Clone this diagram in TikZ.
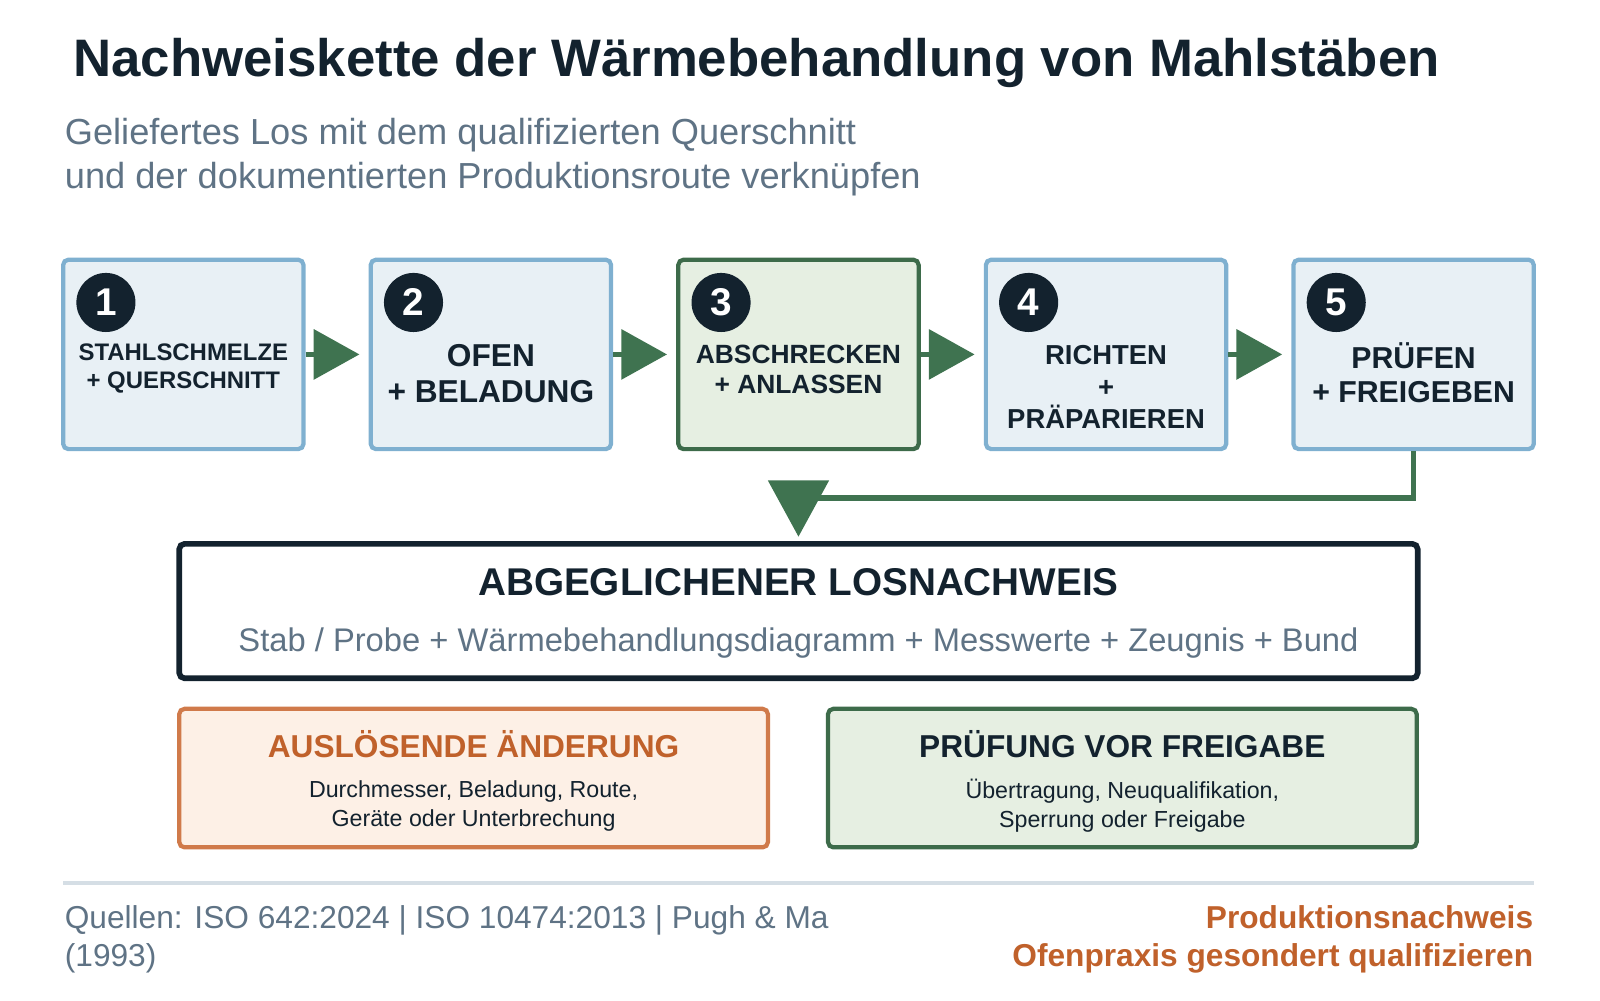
\documentclass[tikz,border=0pt]{standalone}
\usepackage{fontspec}
\setmainfont{Liberation Sans}
\usetikzlibrary{arrows.meta}
\definecolor{navy}{HTML}{13222E}
\definecolor{slate}{HTML}{5F7385}
\definecolor{stepfill}{HTML}{E8F0F5}
\definecolor{stepline}{HTML}{7FB0D0}
\definecolor{greenfill}{HTML}{E6EFE2}
\definecolor{greenline}{HTML}{3D6B4A}
\definecolor{arrowgreen}{HTML}{3F7350}
\definecolor{orange}{HTML}{C0612B}
\definecolor{orangefill}{HTML}{FDF0E6}
\definecolor{orangeline}{HTML}{D07A4A}
\definecolor{rule}{HTML}{D5DEE5}
\tikzset{>=latex,
  stepbox/.style={draw=stepline, fill=stepfill, line width=1.2pt, rounded corners=1.5pt,
    minimum width=236*0.01018cm, minimum height=186*0.01018cm, inner sep=0pt},
  steptext/.style={align=center, font=\bfseries, text=navy, inner sep=0pt},
  num/.style={circle, fill=navy, text=white, font=\bfseries\fontsize{11}{11}\selectfont,
    minimum size=58*0.01018cm, inner sep=0pt},
  flow/.style={arrowgreen, line width=1.6pt, -{Triangle[length=13pt,width=14pt]}, shorten >=2.6pt},
}
\begin{document}
\begin{tikzpicture}[x=0.01018cm, y=-0.01018cm]
    \useasboundingbox (0,0) rectangle (1571,982);
    % title
    \node[anchor=west, font=\bfseries\fontsize{15}{18}\selectfont, text=navy] (title) at (60,62)
      {Nachweiskette der Wärmebehandlung von Mahlstäben};
    \node[anchor=north west, align=left, font=\fontsize{10.3}{12.6}\selectfont, text=slate, inner sep=0pt] (sub) at (63,115)
      {Geliefertes Los mit dem qualifizierten Querschnitt\\und der dokumentierten Produktionsroute verknüpfen};
    % steps
    \node[stepbox] (s1) at (180,348) {};
    \node[stepbox] (s2) at (482,348) {};
    \node[stepbox, draw=greenline, fill=greenfill] (s3) at (784,348) {};
    \node[stepbox] (s4) at (1086,348) {};
    \node[stepbox] (s5) at (1388,348) {};
    \node[steptext, font=\bfseries\fontsize{6.8}{7.8}\selectfont] (t1) at (180,362) {STAHLSCHMELZE\\+ QUERSCHNITT};
    \node[steptext, font=\bfseries\fontsize{9}{10.2}\selectfont] (t2) at (482,367) {OFEN\\+ BELADUNG};
    \node[steptext, font=\bfseries\fontsize{7.5}{8.6}\selectfont] (t3) at (784,363) {ABSCHRECKEN\\+ ANLASSEN};
    \node[steptext, font=\bfseries\fontsize{7.8}{9}\selectfont] (t4) at (1086,380) {RICHTEN\\+\\PRÄPARIEREN};
    \node[steptext, font=\bfseries\fontsize{8.6}{9.8}\selectfont] (t5) at (1388,366) {PRÜFEN\\+ FREIGEBEN};
    \node[num] (n1) at (104,297) {1};
    \node[num] (n2) at (406,297) {2};
    \node[num] (n3) at (708,297) {3};
    \node[num] (n4) at (1010,297) {4};
    \node[num] (n5) at (1312,297) {5};
    \draw[flow] (s1.east) -- (s2.west);
    \draw[flow] (s2.east) -- (s3.west);
    \draw[flow] (s3.east) -- (s4.west);
    \draw[flow] (s4.east) -- (s5.west);
    % record
    \node[draw=navy, line width=1.6pt, rounded corners=1.5pt, fill=white,
      minimum width=1216*0.01018cm, minimum height=132*0.01018cm] (rec) at (784,600) {};
    \node[font=\bfseries\fontsize{11}{13}\selectfont, text=navy] (rect) at (784,572) {ABGEGLICHENER LOSNACHWEIS};
    \node[font=\fontsize{9.3}{11}\selectfont, text=slate] (recs) at (784,631)
      {Stab / Probe + Wärmebehandlungsdiagramm + Messwerte + Zeugnis + Bund};
    \coordinate (fb) at (1388,489);
    \coordinate (fbend) at (784,527);
    \draw[arrowgreen, line width=1.6pt, -{Triangle[length=16pt,width=17pt]}]
      (s5.south) -- (fb) -| (fbend);
    % bottom boxes
    \node[draw=orangeline, fill=orangefill, line width=1.2pt, rounded corners=1.5pt,
      minimum width=578*0.01018cm, minimum height=136*0.01018cm] (trig) at (465,764) {};
    \node[font=\bfseries\fontsize{9}{11}\selectfont, text=orange] (trigt) at (465,731) {AUSLÖSENDE ÄNDERUNG};
    \node[align=center, font=\fontsize{6.6}{8.2}\selectfont, text=navy] (trigs) at (465,791)
      {Durchmesser, Beladung, Route,\\Geräte oder Unterbrechung};
    \node[draw=greenline, fill=greenfill, line width=1.2pt, rounded corners=1.5pt,
      minimum width=578*0.01018cm, minimum height=136*0.01018cm] (chk) at (1102,764) {};
    \node[font=\bfseries\fontsize{9}{11}\selectfont, text=navy] (chkt) at (1102,731) {PRÜFUNG VOR FREIGABE};
    \node[align=center, font=\fontsize{6.6}{8.2}\selectfont, text=navy] (chks) at (1102,791)
      {Übertragung, Neuqualifikation,\\Sperrung oder Freigabe};
    % footer
    \draw[rule, line width=1pt] (62,867) -- (1506,867);
    \node[anchor=north west, align=left, inner sep=0pt, font=\fontsize{9}{11}\selectfont, text=slate] (src) at (63,888)
      {Quellen: ISO 642:2024 | ISO 10474:2013 | Pugh \& Ma\\(1993)};
    \node[anchor=north east, align=right, inner sep=0pt, font=\bfseries\fontsize{9}{11}\selectfont, text=orange] (note) at (1506,888)
      {Produktionsnachweis\\Ofenpraxis gesondert qualifizieren};
\end{tikzpicture}
\end{document}
